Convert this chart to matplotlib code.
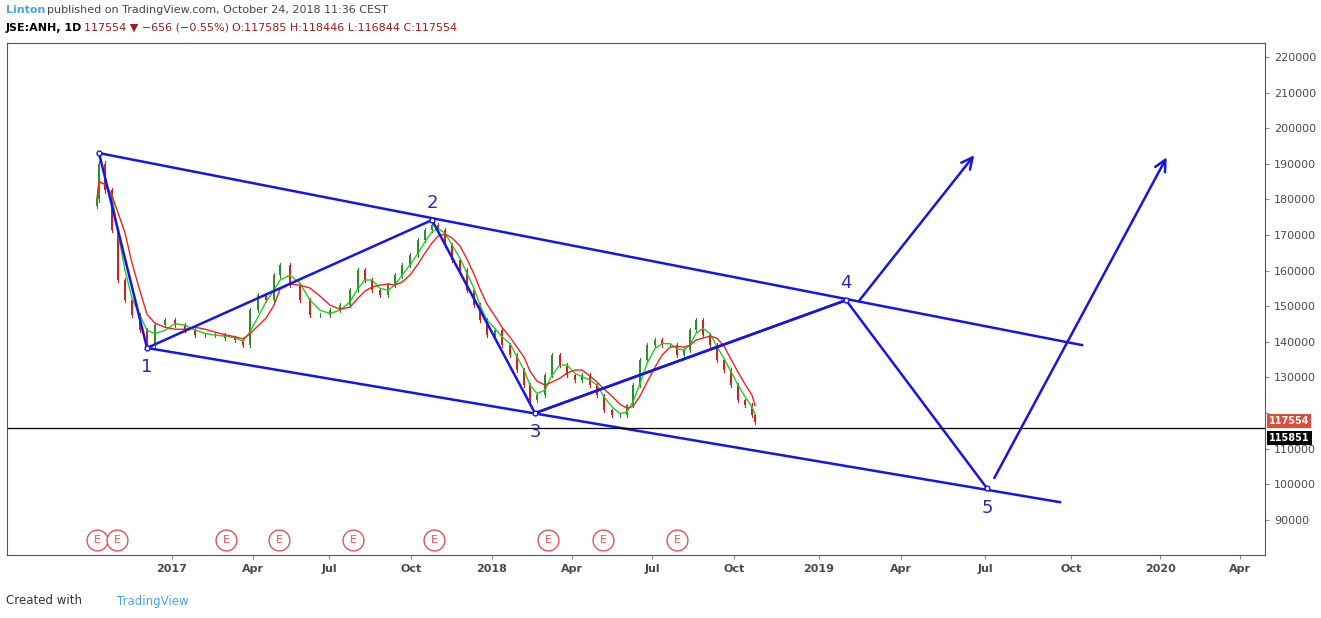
import numpy as np
import matplotlib.pyplot as plt
from matplotlib.patches import Rectangle

# chart x positions (bar slots) and closes
bar_x = [97, 99, 105, 112, 118, 125, 132, 140, 147, 155, 165, 175, 185, 195, 205, 215, 225, 235, 243,
         250, 258, 266, 274, 280, 290, 300, 310, 320, 330, 340, 350, 358, 365, 372, 380, 388, 395,
         402, 410, 418, 425, 432, 438, 445, 452, 460, 467, 474, 480, 487, 495, 502, 510, 517, 524,
         530, 537, 545, 552, 560, 567, 575, 582, 590, 597, 604, 612, 620, 627, 633, 640, 647, 655,
         662, 670, 677, 684, 690, 696, 703, 710, 717, 724, 731, 738, 745, 752, 755]
closes = [180000, 190000, 182600, 171400, 157400, 151700, 147500, 143300, 139000, 144700, 146000,
          144700, 143300, 141900, 141900, 141900, 141000, 140500, 139000, 148900, 153100, 151700,
          158700, 161600, 156000, 151700, 147500, 147500, 148900, 150300, 154500, 160200, 157400,
          154500, 153100, 156000, 158700, 161600, 164400, 168600, 171400, 172800, 171400, 167200,
          163000, 160200, 154500, 150300, 146100, 141900, 143300, 139000, 136300, 132100, 127900,
          123600, 125000, 130700, 136300, 133500, 130700, 129300, 130700, 127900, 125000, 120800,
          119400, 119400, 122200, 127900, 134900, 139000, 140500, 139000, 139000, 136300, 137700,
          143300, 146100, 141900, 139000, 134900, 132100, 127900, 123600, 122300, 119400, 117554]

# month ticks (chart x positions)
tick_x = [172, 253, 329, 411, 492, 572, 652, 734, 819, 901, 985, 1071, 1160, 1240]
tick_labels = ['2017', 'Apr', 'Jul', 'Oct', '2018', 'Apr', 'Jul', 'Oct', '2019', 'Apr', 'Jul', 'Oct', '2020', 'Apr']
price_ticks = list(range(90000, 220001, 10000))

# wave points 0..5
wave_x = [99, 147, 432, 535, 846, 987]
wave_y = [193000, 138300, 174200, 120000, 151700, 98900]
wave_names = ['', '1', '2', '3', '4', '5']
upper_x = [99, 1082]; upper_y = [193000, 139100]
lower_x = [147, 1060]; lower_y = [138300, 95000]
arrows = [((857, 150800), (976, 193000)), ((993, 101100), (1168, 192500))]
earnings_x = [97, 117, 226, 279, 353, 434, 548, 603, 677]

BLUE = '#1515e6'
W, H = 1321, 618
YLO, YHI = 80170, 223900
fig = plt.figure(figsize=(W / 100, H / 100), dpi=100)
ax = fig.add_axes([7 / W, 1 - 555 / H, (1265 - 7) / W, (555 - 43) / H])
ax.set_xlim(7, 1265)
ax.set_ylim(YLO, YHI)

closes_a = np.array(closes, float)
opens = np.concatenate([[closes_a[0] * 0.99], closes_a[:-1]])
for x, o, c in zip(bar_x, opens, closes_a):
    col = '#2e8b2e' if c >= o else '#cc2222'
    hi = max(o, c) * 1.004
    lo = min(o, c) * 0.996
    ax.plot([x, x], [lo, hi], color=col, lw=0.8)
    ax.add_patch(Rectangle((x - 1.2, min(o, c)), 2.4, max(abs(c - o), 150), color=col, lw=0))

s = np.array(closes_a)
fast = np.array([s[max(0, i - 2):i + 1].mean() for i in range(len(s))])
slow = np.array([s[max(0, i - 4):i + 1].mean() for i in range(len(s))])
ax.plot(bar_x, fast, color='#22cc22', lw=1)
ax.plot(bar_x, slow, color='#ee2222', lw=1)

ax.plot(upper_x, upper_y, color=BLUE, lw=1.8)
ax.plot(lower_x, lower_y, color=BLUE, lw=1.8)
ax.plot(wave_x, wave_y, color=BLUE, lw=1.8)
ax.plot([wave_x[3], wave_x[4]], [wave_y[3], wave_y[4]], color=BLUE, lw=1.8)
ax.plot(wave_x, wave_y, 'o', ms=3.5, mfc='white', mec=BLUE, mew=1)
for (x0, y0), (x1, y1) in arrows:
    ax.annotate('', xy=(x1, y1), xytext=(x0, y0),
                arrowprops=dict(arrowstyle='->', color=BLUE, lw=1.8, mutation_scale=20))
offs = [0, -5300, 4800, -5300, 4800, -5600]
for x, y, n, d in zip(wave_x, wave_y, wave_names, offs):
    if n:
        ax.text(x, y + d, n, color='#2a2ab0', fontsize=13, ha='center', va='center')

ax.axhline(115851, color='black', lw=0.9)
for x in earnings_x:
    ax.plot(x, 84300, 'o', ms=15, mfc='white', mec='#e05555', mew=1)
    ax.text(x, 84300, 'E', color='#e05555', fontsize=8, ha='center', va='center')

ax.set_xticks(tick_x)
ax.set_xticklabels(tick_labels, fontsize=8, fontweight='bold', color='#4a4a4a')
ax.yaxis.tick_right()
ax.set_yticks(price_ticks)
# 120000 label is hidden behind the last-price box in the reference
ax.set_yticklabels(['' if p == 120000 else str(p) for p in price_ticks], fontsize=8, color='#4a4a4a')
ax.tick_params(length=3, color='#888888')
for sp in ax.spines.values():
    sp.set_color('#555555'); sp.set_linewidth(0.8)

# last-price labels, stacked as in the reference
for val, ypix, fc in [(117554, 421, '#e04a3a'), (115851, 438, 'black')]:
    fig.text(1269 / W, 1 - ypix / H, str(val), fontsize=7, color='white', fontweight='bold',
             va='center', bbox=dict(boxstyle='square,pad=0.2', fc=fc, ec='none'))

fig.text(6 / W, 1 - 10 / H, 'Linton', color='#4aa3df', fontsize=8, fontweight='bold', va='center')
fig.text(47 / W, 1 - 10 / H, 'published on TradingView.com, October 24, 2018 11:36 CEST',
         color='#444444', fontsize=8, va='center')
fig.text(6 / W, 1 - 28 / H, 'JSE:ANH, 1D', color='black', fontsize=8, fontweight='bold', va='center')
fig.text(84 / W, 1 - 28 / H, '117554 ▼ −656 (−0.55%)', color='#9b1c1c', fontsize=8, va='center')
fig.text(232 / W, 1 - 28 / H, 'O:117585 H:118446 L:116844 C:117554', color='#9b1c1c',
         fontsize=8, va='center')
fig.text(6 / W, 1 - 601 / H, 'Created with', color='#333333', fontsize=8.5, va='center')
fig.text(117 / W, 1 - 601 / H, 'TradingView', color='#4aa3df', fontsize=8.5, va='center')

fig.savefig('out.png', dpi=100)
